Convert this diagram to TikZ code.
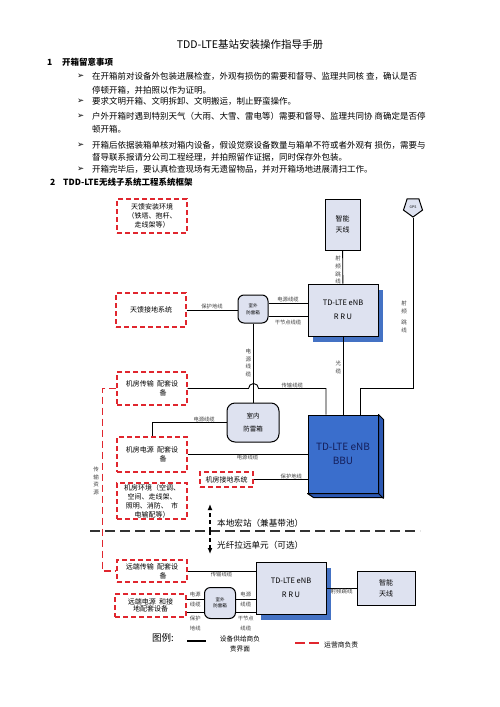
\documentclass[tikz,border=0pt]{standalone}
\usepackage{fontspec}
\setmainfont{Noto Sans CJK SC}
\newfontfamily\symf{DejaVu Sans}
\usepackage{tikz}
\usetikzlibrary{positioning}
\usetikzlibrary{shapes.geometric}
\usetikzlibrary{shadows}
\usetikzlibrary{arrows.meta}

\definecolor{opred}{RGB}{224,38,46}
\definecolor{boxfill}{RGB}{222,226,240}
\definecolor{bbublue}{RGB}{58,110,204}
\definecolor{bbuside}{RGB}{44,88,178}
\definecolor{shadowblue}{RGB}{68,114,196}
\definecolor{bbutext}{RGB}{20,30,90}
\newcommand{\bul}{{\symf\char"27A2}}
\newcommand{\fsz}[2]{\fontsize{#1}{#2}\selectfont}

\begin{document}
\begin{tikzpicture}[x=1pt,y=-1pt]

\tikzset{txt/.style={anchor=west, inner sep=0pt, font=\fsz{8.5}{10}},
  head/.style={txt, font=\fsz{8.5}{10}\bfseries},
  opbox/.style={draw=opred, line width=1.1pt, dash pattern=on 5pt off 3pt,
    minimum width=70pt, inner sep=1pt, align=center, font=\fsz{7}{9}},
  devbox/.style={draw, line width=1pt, fill=boxfill, align=center},
  rru/.style={devbox, minimum width=70pt, minimum height=52pt, font=\fsz{7.5}{14},
    drop shadow={shadow xshift=5pt, shadow yshift=-6pt, fill=shadowblue, opacity=1}},
  lpbox/.style={draw, line width=1pt, fill=boxfill, rounded corners=6pt, align=center},
  cable/.style={line width=0.9pt},
  oplink/.style={draw=opred, line width=1.1pt, dash pattern=on 7pt off 4pt},
  lab/.style={inner sep=0.5pt, font=\fsz{5.3}{10}, text=black!75, align=center},
  vlab/.style={lab, font=\fsz{5.5}{7.7}},
}

\fill[white] (0,0) rectangle (500,707);
\useasboundingbox (0,0) rectangle (500,707);

% heading and notes
\node[font=\fsz{10.5}{12}, inner sep=0pt] (title) at (250,45) {TDD-LTE基站安装操作指导手册};
\node[head] (s1n) at (47,62) {1};
\node[head] (s1) at (62,62) {开箱留意事项};
\foreach \y in {76,101,116,145,169.5}
  \node[txt] at (77,\y) {\bul};
\node[txt] (n1a) at (92,76) {在开箱前对设备外包装进展检查，外观有损伤的需要和督导、监理共同核 查，确认是否};
\node[txt] (n1b) at (92,90) {停顿开箱，并拍照以作为证明。};
\node[txt] (n2) at (92,101) {要求文明开箱、文明拆卸、文明搬运，制止野蛮操作。};
\node[txt] (n3a) at (92,116) {户外开箱时遇到特别天气（大雨、大雪、雷电等）需要和督导、监理共同协 商确定是否停};
\node[txt] (n3b) at (92,129) {顿开箱。};
\node[txt] (n4a) at (92,145) {开箱后依据装箱单核对箱内设备，假设觉察设备数量与箱单不符或者外观有 损伤，需要与};
\node[txt] (n4b) at (92,157) {督导联系报请分公司工程经理，并拍照留作证据，同时保存外包装。};
\node[txt] (n5) at (92,169.5) {开箱完毕后，要认真检查现场有无遗留物品，并对开箱场地进展清扫工作。};
\node[head] (s2n) at (50,182.5) {2};
\node[head] (s2) at (63,182.5) {TDD-LTE无线子系统工程系统框架};

% antenna side
\node[opbox, minimum height=34pt] (feedenv) at (152,216) {天馈安装环境\\（铁塔、抱杆、\\走线架等）};
\node[devbox, minimum width=35pt, minimum height=51pt, font=\fsz{7}{11}] (antA) at (342.5,224.5) {智能\\天线};
\node[draw, line width=1pt, fill=boxfill, regular polygon, regular polygon sides=5,
  shape border rotate=180, minimum size=20pt, inner sep=0pt, font=\fsz{3.5}{4}] (gps) at (413,207) {GPS};
\node[rru] (rruA) at (343,310) {TD-LTE eNB\\R R U};
\node[opbox, minimum height=34pt] (feedgnd) at (151,310) {天馈接地系统};
\node[lpbox, minimum width=30pt, minimum height=28pt, font=\fsz{4.5}{7}] (olp) at (253,309) {室外\\防雷箱};

% machine room
\node[opbox, minimum height=33pt] (trans) at (152,388.5) {机房传输\ \ 配套设\\\hspace*{22pt}备};
\node[lpbox, minimum width=52pt, minimum height=39pt, rounded corners=8pt, font=\fsz{6.5}{13}] (ilp) at (253,422.5) {室内\\防雷箱};
\node[opbox, minimum height=35pt] (power) at (152,454.5) {机房电源\ \ 配套设\\\hspace*{22pt}备};
\node[opbox, minimum width=53pt, minimum height=15pt] (roomgnd) at (226.5,479.5) {机房接地系统};
\node[opbox, minimum height=36pt] (roomenv) at (152,501) {机房环境（空调、\\空间、走线架、\\照明、消防、\ \ 市\\电输配等）};
\node[draw, line width=1pt, fill=bbublue, minimum width=70pt, minimum height=78pt, align=center,
  text=bbutext, font=\fsz{10}{14}] (bbu) at (343,454) {TD-LTE eNB\\BBU};
\filldraw[fill=bbuside, line width=1pt, line join=round] (bbu.north east) -- ++(5,5) -- ++(0,78)
  -- ++(-70,0) -- (bbu.south west) -- (bbu.south east) -- cycle;
\draw[line width=1pt] (bbu.south east) -- ++(5,5);

% remote site
\node[opbox, minimum height=22pt] (remtrans) at (152,571) {远端传输\ \ 配套设\\\hspace*{22pt}备};
\node[opbox, minimum width=71pt, minimum height=23pt, font=\fsz{7}{7.5}] (rempower) at (150.5,605.5) {远端电源\ \ 和接\\地配套设备};
\node[lpbox, minimum width=31pt, minimum height=31pt, font=\fsz{4.5}{6}] (olp2) at (220,603) {室外\\防雷箱};
\node[rru] (rruB) at (291,588) {TD-LTE eNB\\R R U};
\node[devbox, minimum width=58pt, minimum height=34pt, font=\fsz{7}{11}] (antB) at (386,588) {智能\\天线};

% cables
\draw[cable] (antA) -- (rruA) node[vlab, pos=0.6, left=1pt] {射\\频\\跳\\线};
\draw[cable] (gps.south) |- ([xshift=17pt]bbu.north |- trans.east) -- ([xshift=17pt]bbu.north);
\node[vlab] (rfjump) at (404,317) {射\\频\\[4pt]跳\\线};
\draw[cable] (feedgnd.east) -- (feedgnd.east -| olp.west) node[lab, midway, above] {保护地线};
\draw[cable] ([yshift=6pt]olp.east) -- ([yshift=6pt]olp.east -| rruA.west) node[lab, midway, above] {电源线缆};
\draw[cable] ([yshift=-7pt]olp.east) -- ([yshift=-7pt]olp.east -| rruA.west) node[lab, midway, below=3pt] {干节点线缆};
\draw[cable] (olp) -- (ilp) node[vlab, midway, left=1pt] {电\\源\\线\\缆};
\draw[cable] (trans.east) -- ++(61,0) arc (180:360:5)
  -- node[lab, above] {传输线缆} ([xshift=-17pt]bbu.north |- trans.east) -- ([xshift=-17pt]bbu.north);
\draw[cable] (rruA) -- (bbu) node[vlab, pos=0.4, left=1pt] {光\\缆};
\draw[cable] (ilp.west) -| (power.north) node[lab, pos=0.15, above] {电源线缆};
\draw[cable] (power.east) -- (power.east -| bbu.west) node[lab, midway, below] {电源线缆};
\draw[cable] (roomgnd.east) -- (roomgnd.east -| bbu.west) node[lab, pos=0.7, above] {保护地线};
\draw[oplink] (trans.west) -- ++(-14,0) |- (remtrans.west);
\node[vlab] (res) at (96,481) {传\\输\\资\\源};

% local / remote split
\coordinate (sepL) at (90,531);
\coordinate (sepR) at (420,531);
\coordinate (split) at (210,531);
\draw[line width=1.6pt, dash pattern=on 10pt off 5pt, black!80] (sepL) -- (sepR);
\draw[line width=1.2pt, dash pattern=on 4pt off 3pt, -{Latex[length=6pt,width=5pt]}] (split) -- ++(0,-27);
\draw[line width=1.2pt, dash pattern=on 4pt off 3pt, -{Latex[length=6pt,width=5pt]}] (split) -- ++(0,23);
\node[txt, font=\fsz{8.6}{10}] (local) at (217,523) {本地宏站（兼基带池）};
\node[txt, font=\fsz{8.6}{10}] (remote) at (217,545) {光纤拉远单元（可选）};

\draw[cable] (remtrans.east) -- (remtrans.east -| rruB.west) node[lab, midway, below] {传输线缆};
\draw[cable] ([yshift=4pt]olp2.west -| rempower.east) -- ([yshift=4pt]olp2.west) node[lab, midway] {电源\\线缆};
\draw[cable] ([yshift=-9pt]olp2.west -| rempower.east) -- ([yshift=-9pt]olp2.west) node[lab, midway, below=3pt] {保护\\地线};
\draw[cable] ([yshift=4pt]olp2.east) -- ([yshift=4pt]olp2.east -| rruB.west) node[lab, midway] {电源\\线缆};
\draw[cable] ([yshift=-9pt]olp2.east) -- ([yshift=-9pt]olp2.east -| rruB.west) node[lab, midway, below=3pt] {干节点\\线缆};
\draw[cable] (rruB) -- (antB) node[lab, midway, below=0pt, font=\fsz{5.5}{6}] {射频跳线};

% legend
\node[txt, font=\fsz{9.5}{10}] (legend) at (152,638) {图例:};
\coordinate (lgA) at (187,641);
\draw[cable, line width=1.1pt] (lgA) -- ++(19,0) coordinate (lgB);
\node[inner sep=0pt, align=center, font=\fsz{6.7}{10.5}] (vendor) at (240,644) {设备供给商负\\责界面};
\coordinate (lgC) at (295,643);
\draw[oplink, dash pattern=on 10pt off 4pt] (lgC) -- ++(25,0) coordinate (lgD);
\node[txt, font=\fsz{6.8}{8}] (oper) at (324,645) {运营商负责};

\end{tikzpicture}
\end{document}
